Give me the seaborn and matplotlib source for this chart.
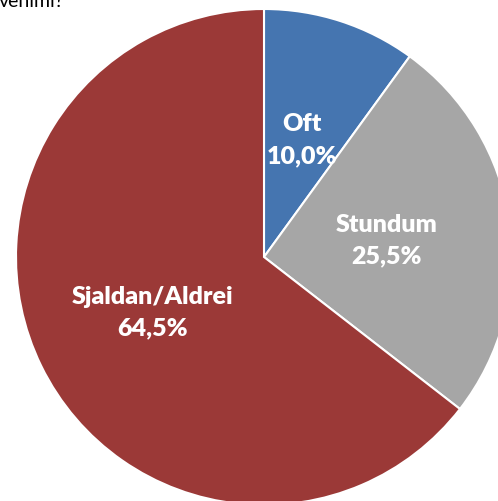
import matplotlib
matplotlib.use("Agg")
import matplotlib.pyplot as plt
import seaborn as sns

# ── data ─────────────────────────────────────────────
categories = ["Oft", "Stundum", "Sjaldan/Aldrei"]
shares     = [10.0, 25.5, 64.5]
colors     = ["#4575b0", "#a6a6a6", "#9b3937"]
title_tail = "venimi?"

sns.set_theme(style="white")
plt.rcParams["font.family"] = ["Lato", "DejaVu Sans"]

fig = plt.figure(figsize=(4.98, 5.02), dpi=100)
ax = fig.add_axes([0, 0, 1, 1])

labels = [f"{c}\n{v:.1f}%".replace(".", ",") for c, v in zip(categories, shares)]

wedges, texts = ax.pie(
    shares,
    labels=labels,
    colors=colors,
    startangle=90,
    counterclock=False,
    center=(264, 244),
    radius=248,
    labeldistance=0.5,
    wedgeprops=dict(edgecolor="white", linewidth=1.5),
    textprops=dict(color="white", fontsize=18, fontweight="heavy"),
    frame=True,
)
for t in texts:
    t.set_horizontalalignment("center")
    t.set_verticalalignment("center")
    t.set_linespacing(1.55)

ax.set_xlim(0, 498)
ax.set_ylim(0, 502)
ax.set_aspect("equal")
ax.axis("off")

# title, only its bottom edge is left in view
ax.text(64, 495, title_tail, ha="right", va="baseline", fontsize=14,
        color="black", clip_on=False)

fig.savefig("out.png", dpi=100)
